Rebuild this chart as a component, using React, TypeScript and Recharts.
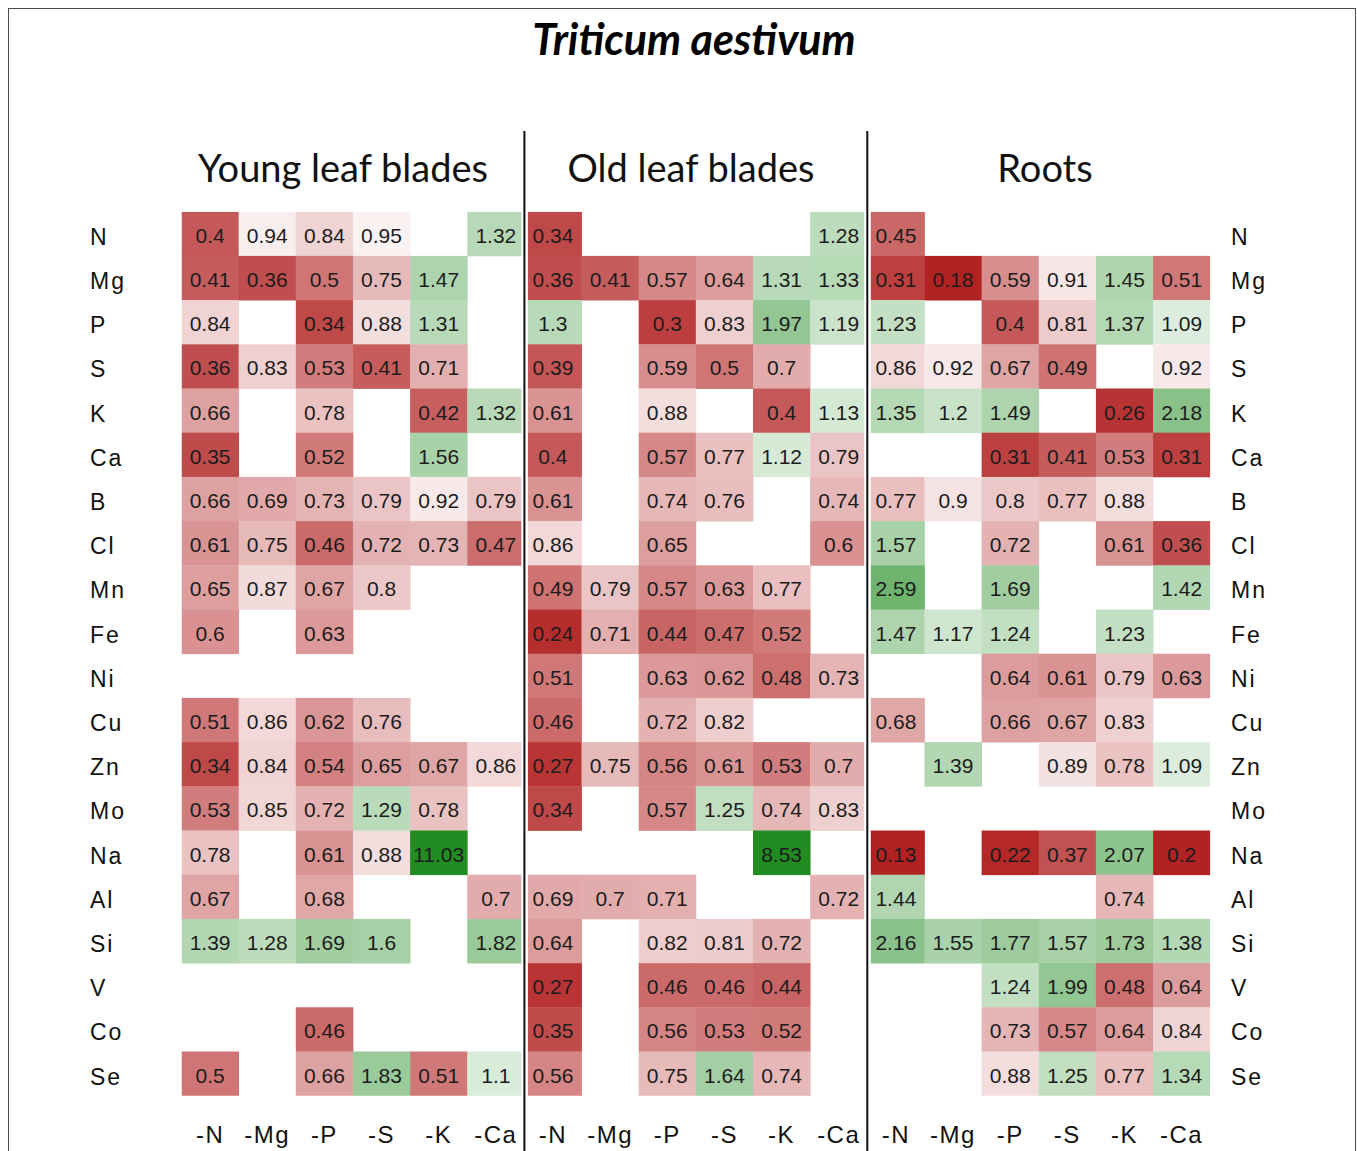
import React from 'react';
import { ScatterChart, Scatter, XAxis, YAxis, ReferenceLine } from 'recharts';

const chartTitle = 'Triticum aestivum';
const tissues = ['Young leaf blades', 'Old leaf blades', 'Roots'];
const treatments = ['-N', '-Mg', '-P', '-S', '-K', '-Ca'];
const elements = ['N', 'Mg', 'P', 'S', 'K', 'Ca', 'B', 'Cl', 'Mn', 'Fe', 'Ni', 'Cu', 'Zn', 'Mo', 'Na', 'Al', 'Si', 'V', 'Co', 'Se'];

const _ = null;
// rows follow `elements`, columns follow `treatments`
const youngLeaf = [
  [0.4, 0.94, 0.84, 0.95, _, 1.32],
  [0.41, 0.36, 0.5, 0.75, 1.47, _],
  [0.84, _, 0.34, 0.88, 1.31, _],
  [0.36, 0.83, 0.53, 0.41, 0.71, _],
  [0.66, _, 0.78, _, 0.42, 1.32],
  [0.35, _, 0.52, _, 1.56, _],
  [0.66, 0.69, 0.73, 0.79, 0.92, 0.79],
  [0.61, 0.75, 0.46, 0.72, 0.73, 0.47],
  [0.65, 0.87, 0.67, 0.8, _, _],
  [0.6, _, 0.63, _, _, _],
  [_, _, _, _, _, _],
  [0.51, 0.86, 0.62, 0.76, _, _],
  [0.34, 0.84, 0.54, 0.65, 0.67, 0.86],
  [0.53, 0.85, 0.72, 1.29, 0.78, _],
  [0.78, _, 0.61, 0.88, 11.03, _],
  [0.67, _, 0.68, _, _, 0.7],
  [1.39, 1.28, 1.69, 1.6, _, 1.82],
  [_, _, _, _, _, _],
  [_, _, 0.46, _, _, _],
  [0.5, _, 0.66, 1.83, 0.51, 1.1],
];

const oldLeaf = [
  [0.34, _, _, _, _, 1.28],
  [0.36, 0.41, 0.57, 0.64, 1.31, 1.33],
  [1.3, _, 0.3, 0.83, 1.97, 1.19],
  [0.39, _, 0.59, 0.5, 0.7, _],
  [0.61, _, 0.88, _, 0.4, 1.13],
  [0.4, _, 0.57, 0.77, 1.12, 0.79],
  [0.61, _, 0.74, 0.76, _, 0.74],
  [0.86, _, 0.65, _, _, 0.6],
  [0.49, 0.79, 0.57, 0.63, 0.77, _],
  [0.24, 0.71, 0.44, 0.47, 0.52, _],
  [0.51, _, 0.63, 0.62, 0.48, 0.73],
  [0.46, _, 0.72, 0.82, _, _],
  [0.27, 0.75, 0.56, 0.61, 0.53, 0.7],
  [0.34, _, 0.57, 1.25, 0.74, 0.83],
  [_, _, _, _, 8.53, _],
  [0.69, 0.7, 0.71, _, _, 0.72],
  [0.64, _, 0.82, 0.81, 0.72, _],
  [0.27, _, 0.46, 0.46, 0.44, _],
  [0.35, _, 0.56, 0.53, 0.52, _],
  [0.56, _, 0.75, 1.64, 0.74, _],
];

const roots = [
  [0.45, _, _, _, _, _],
  [0.31, 0.18, 0.59, 0.91, 1.45, 0.51],
  [1.23, _, 0.4, 0.81, 1.37, 1.09],
  [0.86, 0.92, 0.67, 0.49, _, 0.92],
  [1.35, 1.2, 1.49, _, 0.26, 2.18],
  [_, _, 0.31, 0.41, 0.53, 0.31],
  [0.77, 0.9, 0.8, 0.77, 0.88, _],
  [1.57, _, 0.72, _, 0.61, 0.36],
  [2.59, _, 1.69, _, _, 1.42],
  [1.47, 1.17, 1.24, _, 1.23, _],
  [_, _, 0.64, 0.61, 0.79, 0.63],
  [0.68, _, 0.66, 0.67, 0.83, _],
  [_, 1.39, _, 0.89, 0.78, 1.09],
  [_, _, _, _, _, _],
  [0.13, _, 0.22, 0.37, 2.07, 0.2],
  [1.44, _, _, _, 0.74, _],
  [2.16, 1.55, 1.77, 1.57, 1.73, 1.38],
  [_, _, 1.24, 1.99, 0.48, 0.64],
  [_, _, 0.73, 0.57, 0.64, 0.84],
  [_, _, 0.88, 1.25, 0.77, 1.34],
];

const panels = [youngLeaf, oldLeaf, roots];

// ---------- layout ----------
const W = 1357;
const H = 1151;
const PLOT_LEFT = 181.5;
const PLOT_RIGHT = 1210.2;
const PLOT_TOP = 211.7;
const PLOT_BOTTOM = 1095.7;
const L_AXIS_W = 91.5;
const R_AXIS_W = 120;
const X_AXIS_H = 40;
const NT = treatments.length;
const NCOL = panels.length * NT;
const CW = (PLOT_RIGHT - PLOT_LEFT) / NCOL;
const CH = (PLOT_BOTTOM - PLOT_TOP) / elements.length;
const LEFT_LABEL_X = 90;
const RIGHT_LABEL_X = 1231;
const X_LABEL_Y = 1134;
const DIVIDER_GAP = 3.5;

const LABEL_FONT = '"Liberation Sans", Arial, sans-serif';

type CellDatum = { x: number; y: number; v: number };
const cells: CellDatum[] = [];
panels.forEach((panel, p) =>
  panel.forEach((row, r) =>
    row.forEach((v, c) => {
      if (v !== null) cells.push({ x: p * NT + c, y: r, v: v as number });
    })
  )
);

const RED = [178, 34, 34];
const GREEN = [34, 139, 34];
const GREEN_STOPS: [number, number][] = [
  [1, 0], [1.1, 0.17], [1.3, 0.32], [1.7, 0.43], [2.2, 0.54], [2.6, 0.66], [8.5, 1],
];

function mix(c: number[], f: number) {
  const r = Math.round(255 + (c[0] - 255) * f);
  const g = Math.round(255 + (c[1] - 255) * f);
  const b = Math.round(255 + (c[2] - 255) * f);
  return `rgb(${r},${g},${b})`;
}

function cellColor(v: number) {
  if (v < 1) {
    const f = Math.min(1, (1 - v) / 0.8);
    return mix(RED, f);
  }
  let f = 1;
  for (let i = 1; i < GREEN_STOPS.length; i++) {
    const [x0, y0] = GREEN_STOPS[i - 1];
    const [x1, y1] = GREEN_STOPS[i];
    if (v <= x1) {
      f = y0 + ((v - x0) / (x1 - x0)) * (y1 - y0);
      break;
    }
  }
  return mix(GREEN, f);
}

const HeatCell = (props: any) => {
  const { cx, cy, payload } = props;
  if (cx == null || cy == null || !payload) return null;
  const col = payload.x % NT;
  const panel = Math.floor(payload.x / NT);
  const insetL = col === 0 && panel > 0 ? DIVIDER_GAP : 0;
  const insetR = col === NT - 1 && panel < panels.length - 1 ? DIVIDER_GAP : 0;
  return (
    <g>
      <rect
        x={cx - CW / 2 + insetL}
        y={cy - CH / 2}
        width={CW + 0.4 - insetL - insetR}
        height={CH + 0.4}
        fill={cellColor(payload.v)}
      />
      <text
        x={cx}
        y={cy + 1.5}
        textAnchor="middle"
        dominantBaseline="central"
        fontSize={21}
        fontFamily={LABEL_FONT}
        fill="#1c1c1c"
      >
        {String(payload.v)}
      </text>
    </g>
  );
};

const LeftTick = (props: any) => {
  const { y, payload } = props;
  return (
    <text x={LEFT_LABEL_X} y={y + 3} textAnchor="start" dominantBaseline="central" fontSize={23}
      fontFamily={LABEL_FONT} fill="#111" letterSpacing={2}>
      {elements[payload.value]}
    </text>
  );
};

const RightTick = (props: any) => {
  const { y, payload } = props;
  return (
    <text x={RIGHT_LABEL_X} y={y + 3} textAnchor="start" dominantBaseline="central" fontSize={23}
      fontFamily={LABEL_FONT} fill="#111" letterSpacing={2}>
      {elements[payload.value]}
    </text>
  );
};

const BottomTick = (props: any) => {
  const { x, payload } = props;
  return (
    <text x={x} y={X_LABEL_Y} textAnchor="middle" dominantBaseline="central" fontSize={24}
      fontFamily={LABEL_FONT} fill="#111" letterSpacing={1.5}>
      {treatments[payload.value % NT]}
    </text>
  );
};

const xTicks = Array.from({ length: NCOL }, (_v, i) => i);
const yTicks = elements.map((_e, i) => i);
const panelBreaks = [NT - 0.5, 2 * NT - 0.5];
const LINE_TOP = -0.5 - (PLOT_TOP - 131) / CH;
const LINE_BOTTOM = elements.length - 0.5 + (H - PLOT_BOTTOM) / CH;

const subtitleCenters = [343, 691, 1045];

export default function App() {
  return (
    <div style={{ position: 'relative', width: W, height: H, overflow: 'hidden', background: '#fff' }}>
      <style>{`body{margin:0;overflow:hidden;}`}</style>
      <div
        style={{
          position: 'absolute', left: 8, top: 8, width: 1348, height: 1200,
          border: '1.5px solid #4a4a4a', boxSizing: 'border-box',
        }}
      />
      <div
        style={{
          position: 'absolute', left: 0, width: W, top: 17, textAlign: 'center',
          fontFamily: 'Lato, sans-serif', fontWeight: 700, fontStyle: 'italic', fontSize: 43,
          lineHeight: '43px', color: '#000', paddingLeft: 31, boxSizing: 'border-box',
        }}
      >
        {chartTitle}
      </div>
      {tissues.map((t, i) => (
        <div
          key={t}
          style={{
            position: 'absolute', left: subtitleCenters[i] - 250, width: 500, top: 148,
            textAlign: 'center', fontFamily: 'Lato, sans-serif', fontSize: 38, lineHeight: '38px',
            color: '#111',
          }}
        >
          {t}
        </div>
      ))}
      <div style={{ position: 'absolute', left: 0, top: 0 }}>
        <ScatterChart
          width={W}
          height={H}
          margin={{
            left: PLOT_LEFT - L_AXIS_W,
            right: W - PLOT_RIGHT - R_AXIS_W,
            top: PLOT_TOP,
            bottom: H - PLOT_BOTTOM - X_AXIS_H,
          }}
        >
          <XAxis
            type="number"
            dataKey="x"
            domain={[-0.5, NCOL - 0.5]}
            ticks={xTicks}
            interval={0}
            tick={BottomTick}
            axisLine={false}
            tickLine={false}
            height={X_AXIS_H}
            allowDataOverflow
          />
          <YAxis
            yAxisId="left"
            type="number"
            dataKey="y"
            domain={[-0.5, elements.length - 0.5]}
            reversed
            ticks={yTicks}
            interval={0}
            tick={LeftTick}
            axisLine={false}
            tickLine={false}
            width={L_AXIS_W}
            allowDataOverflow
          />
          <YAxis
            yAxisId="right"
            orientation="right"
            type="number"
            domain={[-0.5, elements.length - 0.5]}
            reversed
            ticks={yTicks}
            interval={0}
            tick={RightTick}
            axisLine={false}
            tickLine={false}
            width={R_AXIS_W}
            allowDataOverflow
          />
          <Scatter
            data={cells}
            yAxisId="left"
            shape={HeatCell}
            isAnimationActive={false}
          />
          {panelBreaks.map((b) => (
            <ReferenceLine
              key={`k${b}`}
              yAxisId="left"
              segment={[{ x: b, y: LINE_TOP }, { x: b, y: LINE_BOTTOM }]}
              stroke="#111111"
              strokeWidth={2}
              ifOverflow="visible"
            />
          ))}
        </ScatterChart>
      </div>
    </div>
  );
}
